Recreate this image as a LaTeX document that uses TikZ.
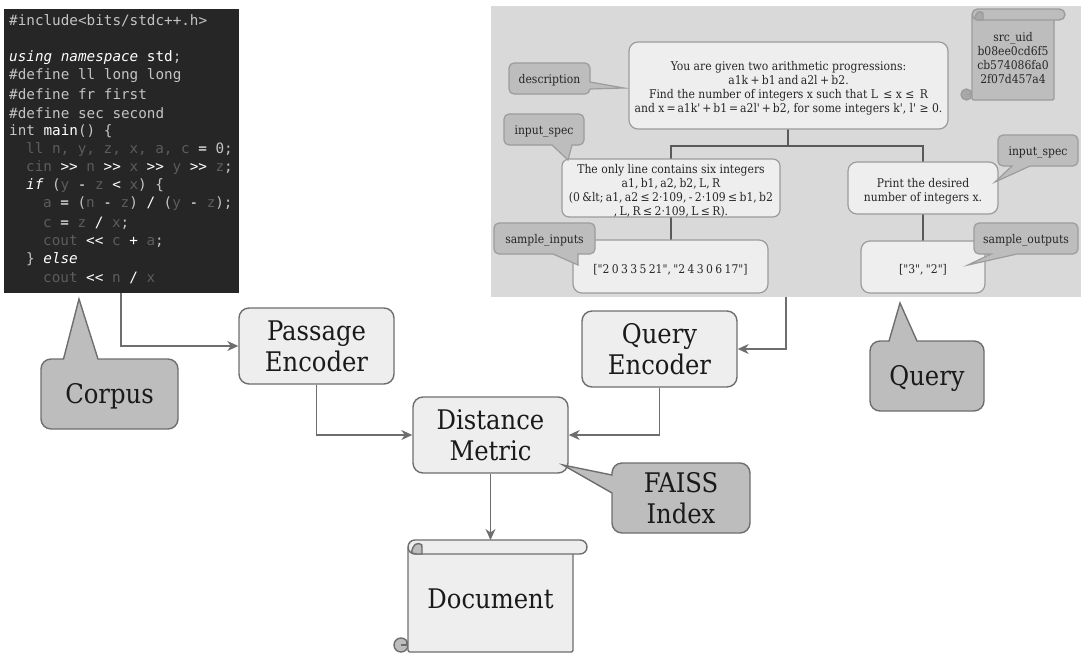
\documentclass[tikz,border=0pt]{standalone}
\usepackage[HTML]{xcolor}
\usepackage{fontspec}
\usepackage{tikz}
\usetikzlibrary{arrows.meta}
\setmainfont{DejaVu Serif Condensed}
\setmonofont{DejaVu Sans Mono}

\definecolor{codebg}{HTML}{262626}
\definecolor{codegray}{HTML}{C4C4C4}
\definecolor{codefaint}{HTML}{5C5C5C}
\definecolor{panelbg}{HTML}{D9D9D9}
\definecolor{boxfill}{HTML}{EEEEEE}
\definecolor{tagfill}{HTML}{BDBDBD}
\definecolor{edge}{HTML}{6E6E6E}
\definecolor{softedge}{HTML}{9C9C9C}
\definecolor{curlfill}{HTML}{A8A8A8}
\definecolor{treeline}{HTML}{5A5A5A}

\newcommand{\codedim}[1]{\textcolor{codefaint}{#1}}
\newcommand{\codewhite}[1]{\textcolor{white}{#1}}
\newcommand{\tightsp}{\spaceskip=.2em\relax}

% l, t, r (bar end), body right, b, R, edge colour, fill, curl fill
\newcommand{\drawscroll}[9]{
  \draw[#7, line width=1.4, fill=#9] (#1-#6,#5-#6) circle (#6);
  \draw[#7, line width=1.4] (#1-0.2*#6,#5-1.7*#6) -- (#1-0.2*#6,#5-#6) -- (#1-#6,#5-#6);
  \draw[#7, line width=1.4, fill=#8, rounded corners=2] (#1,#2+#6) -- (#1,#5) -- (#4,#5) -- (#4,#2+#6) -- cycle;
  \draw[#7, line width=1.4, fill=#8, rounded corners=#6-0.01] (#1,#2) rectangle (#3,#2+2*#6);
  \draw[#7, line width=1.4, fill=#9] (#1+2*#6,#2+1.1*#6) .. controls (#1+2.3*#6,#2+0.4*#6) and (#1+0.9*#6,#2+0.2*#6) .. (#1+0.7*#6,#2+1.1*#6) .. controls (#1+0.4*#6,#2+1.9*#6) .. (#1+1.3*#6,#2+2*#6) -- (#1+2*#6,#2+2*#6) -- cycle;
}

\tikzset{
  mainbox/.style={draw=edge, line width=1.4, fill=boxfill, rounded corners=10, align=center, font=\fontsize{27}{31}\selectfont, text=black!90, minimum width=155, minimum height=76, inner sep=0},
  maintag/.style={draw=edge, line width=1.4, fill=tagfill, rounded corners=10},
  maintext/.style={align=center, font=\fontsize{27}{31}\selectfont, text=black!90, inner sep=0},
  panelbox/.style={draw=softedge, line width=1.2, fill=boxfill, rounded corners=9, align=center, font=\fontsize{12}{14}\selectfont, text=black!85, inner sep=0},
  paneltag/.style={draw=softedge, line width=1.2, fill=tagfill, rounded corners=5},
  paneltext/.style={align=center, font=\fontsize{12}{14}\selectfont, text=black!85, inner sep=0},
  codetext/.style={anchor=west, inner sep=0, text=codegray, font=\ttfamily\fontsize{14.3}{16}\selectfont},
  flow/.style={-{Stealth[length=11, width=10, inset=3.5]}, line width=1.4, edge},
  tree/.style={line width=1.8, treeline}
}

\begin{document}
\begin{tikzpicture}[x=1pt, y=-1pt]
\useasboundingbox (0,0) rectangle (1085,665);

% Code panel
\node[fill=codebg, minimum width=235, minimum height=284, inner sep=0] (codepanel) at (121.5,151) {};
\node[codetext] (codeA) at (9,21) {\#include<bits/stdc++.h>};
\node[codetext] (codeB) at (9,58) {\codewhite{\itshape using namespace} \codewhite{std};};
\node[codetext] (codeC) at (9,76) {\#define ll long long};
\node[codetext] (codeD) at (9,94) {\#define fr first};
\node[codetext] (codeE) at (9,113) {\#define sec second};
\node[codetext] (codeF) at (9,131) {int \codewhite{main}() \{};
\node[codetext] (codeG) at (26,150) {\codedim{ll n, y, z, x, a, c} \codewhite{=} 0;};
\node[codetext] (codeH) at (26,168) {\codedim{cin} \codewhite{>>} \codedim{n} \codewhite{>>} \codedim{x} \codewhite{>>} \codedim{y} \codewhite{>>} \codedim{z};};
\node[codetext] (codeI) at (26,186) {\codewhite{\itshape if} (\codedim{y} \codewhite{-} \codedim{z} \codewhite{<} \codedim{x}) \{};
\node[codetext] (codeJ) at (43,204) {\codedim{a} \codewhite{=} (\codedim{n} \codewhite{-} \codedim{z}) \codewhite{/} (\codedim{y} \codewhite{-} \codedim{z});};
\node[codetext] (codeK) at (43,223) {\codedim{c} \codewhite{=} \codedim{z} \codewhite{/} \codedim{x};};
\node[codetext] (codeL) at (43,241) {\codedim{cout} \codewhite{<<} \codedim{c} \codewhite{+} \codedim{a};};
\node[codetext] (codeM) at (26,259) {\} \codewhite{\itshape else}};
\node[codetext] (codeN) at (43,278) {\codedim{cout} \codewhite{<<} \codedim{n} \codewhite{/} \codedim{x}};

% Query panel
\node[fill=panelbg, minimum width=590, minimum height=291, inner sep=0] (querypanel) at (786,151.5) {};
\coordinate (splitA) at (788,146);
\draw[tree] (788,129) -- (splitA);
\draw[tree] (671,240) -- (671,146) -- (923,146) -- (923,241);

\node[panelbox, minimum width=319, minimum height=87] (description) at (788.5,85.5) {~\\[1pt]You are given two arithmetic progressions:\\{\tightsp a1k + b1 and a2l + b2.}\\Find the number of integers x such that L $\,$≤ x ≤$\,$ R\\and x\,=\,a1k\textquotesingle\,+\,b1\,=\,a2l\textquotesingle\,+\,b2, for some integers k\textquotesingle, l\textquotesingle{} ≥ 0.};
\node[panelbox, minimum width=218, minimum height=56, rounded corners=7] (inputtext) at (671,188) {~\\The only line contains six integers\\{\tightsp a1, b1, a2, b2, L, R}\\{\tightsp (0 \&lt; a1, a2 ≤ 2·109, - 2·109 ≤ b1, b2}\\{\tightsp , L, R ≤ 2·109, L ≤ R).}};
\node[panelbox, minimum width=150, minimum height=52] (outputtext) at (923,188) {~\\[1pt]Print the desired\\number of integers x.};
\node[panelbox, minimum width=195, minimum height=53] (sampleinput) at (670.5,266.5) {~\\[1pt]{\tightsp[\textquotedbl 2 0 3 3 5 21\textquotedbl, \textquotedbl 2 4 3 0 6 17\textquotedbl]}};
\node[panelbox, minimum width=124, minimum height=52] (sampleoutput) at (923,267) {~\\[1pt]{\tightsp[\textquotedbl 3\textquotedbl, \textquotedbl 2\textquotedbl]}};

% Panel callouts
\draw[paneltag] (509,63) -- (590,63) [sharp corners] -- (590,82) -- (624,88) -- (590,89) [rounded corners=5] -- (590,94) -- (509,94) -- cycle;
\node[paneltext] (tagdescription) at (549.5,78.5) {~\\[-1pt]description};
\draw[paneltag] (504,114) -- (584,114) -- (584,145) [sharp corners] -- (572,145) -- (568,160) -- (552,145) [rounded corners=5] -- (504,145) -- cycle;
\node[paneltext] (taginputl) at (544,129.5) {~\\[-1pt]input\_spec};
\draw[paneltag] (494,223) -- (595,223) -- (595,254) [sharp corners] -- (578,254) -- (578,265) -- (553,254) [rounded corners=5] -- (494,254) -- cycle;
\node[paneltext] (taginputs) at (544.5,238.5) {~\\[-1pt]sample\_inputs};
\draw[paneltag] (998,135) -- (1078,135) -- (1078,166) [sharp corners] -- (1030,166) -- (995,182) -- (1012,166) [rounded corners=5] -- (998,166) -- cycle;
\node[paneltext] (taginputr) at (1038,150.5) {~\\[-1pt]input\_spec};
\draw[paneltag] (974,223) -- (1078,223) -- (1078,254) [sharp corners] -- (1017,254) -- (968,265) -- (991,254) [rounded corners=5] -- (974,254) -- cycle;
\node[paneltext] (tagoutputs) at (1026,238.5) {~\\[-1pt]sample\_outputs};

% src uid scroll
\drawscroll{972}{9}{1065}{1054}{100}{5.5}{softedge}{tagfill}{curlfill}
\node[paneltext] (srcuid) at (1013,58) {src\_uid\\b08ee0cd6f5\\cb574086fa0\\2f07d457a4};

% Encoders
\node[mainbox] (passage) at (316.5,346) {Passage\\Encoder};
\node[mainbox] (queryenc) at (659.5,349) {Query\\Encoder};
\node[mainbox] (metric) at (490.5,435) {Distance\\Metric};

% Callouts
\draw[maintag] (41,359) [sharp corners] -- (63.5,359) -- (79,299) -- (98,359) [rounded corners=10] -- (178,359) -- (178,429) -- (41,429) -- cycle;
\node[maintext] (corpus) at (109.5,394) {~\\[-6pt]Corpus};
\draw[maintag] (870,341) [sharp corners] -- (889,341) -- (900,303) -- (917,341) [rounded corners=10] -- (984,341) -- (984,411) -- (870,411) -- cycle;
\node[maintext] (query) at (927,376) {~\\[-6pt]Query};
\draw[maintag] (612,463) -- (750,463) -- (750,533) -- (612,533) [sharp corners] -- (612,493) -- (563,465) -- (612,475) [rounded corners=10] -- cycle;
\node[maintext] (faiss) at (681,498) {FAISS\\Index};

% Document scroll
\drawscroll{408}{540}{587}{573}{652}{7}{edge}{boxfill}{tagfill}
\node[maintext] (document) at (490.5,599) {Document};
\coordinate (doctop) at (490.5,540);

% Flow arrows
\coordinate (codeout) at (121,293);
\coordinate (panelout) at (786,297);
\draw[flow] (codeout) |- (passage.west);
\draw[flow] (panelout) |- (queryenc.east);
\draw[flow] (passage.south) |- (metric.west);
\draw[flow] (queryenc.south) |- (metric.east);
\draw[flow] (metric.south) -- (doctop);
\end{tikzpicture}
\end{document}
